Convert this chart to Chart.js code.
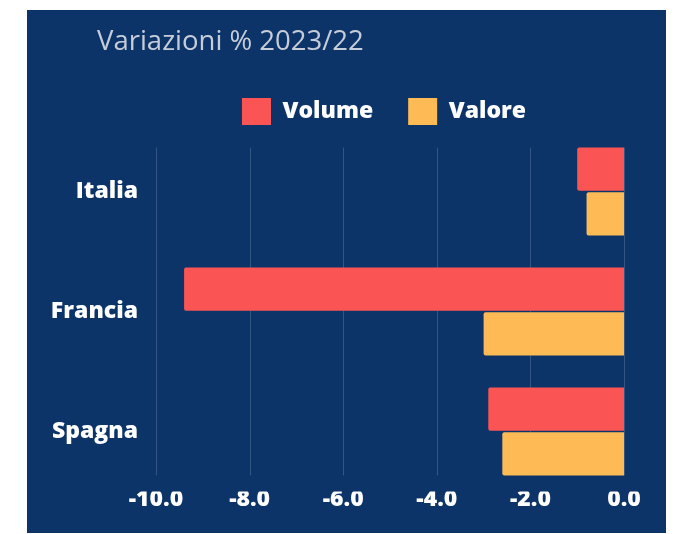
<!DOCTYPE html>
<html>
<head>
<meta charset="utf-8">
<script src="https://cdn.jsdelivr.net/npm/chart.js@4/dist/chart.umd.min.js"></script>
<style>
  html, body { margin: 0; padding: 0; background: #fff; }
  #pannello { position: absolute; left: 27px; top: 10px; width: 639px; height: 523px; background: #0c3469; }
</style>
</head>
<body>
<div id="pannello"><canvas id="grafico"></canvas></div>
<script>
const paesi = ['Italia', 'Francia', 'Spagna'];
const volume = [-1.0, -9.4, -2.9];
const valore = [-0.8, -3.0, -2.6];
const titolo = 'Variazioni % 2023/22';

const grigliaBarre = {
  id: 'grigliaBarre',
  // titolo e legenda spostati dove stanno nell'originale
  afterLayout(chart) {
    const t = chart.titleBlock;
    let d = 70 - t.left;
    t.left += d; t.right += d;
    const l = chart.legend;
    d = 215 - 35 - l.left;
    l.left += d; l.right += d;
  },
  // griglia verticale solo all'altezza delle barre
  beforeDatasetsDraw(chart) {
    const x = chart.scales.x;
    const primo = chart.getDatasetMeta(0).data[0];
    const ultimo = chart.getDatasetMeta(1).data[paesi.length - 1];
    const top = primo.y - primo.height / 2;
    const bottom = ultimo.y + ultimo.height / 2;
    const ctx = chart.ctx;
    ctx.save();
    ctx.strokeStyle = 'rgba(255,255,255,0.17)';
    ctx.lineWidth = 1;
    x.ticks.forEach(t => {
      const px = Math.round(x.getPixelForValue(t.value)) + 0.5;
      ctx.beginPath();
      ctx.moveTo(px, top);
      ctx.lineTo(px, bottom);
      ctx.stroke();
    });
    ctx.restore();
  }
};

const font = { family: 'Open Sans', size: 23, weight: '800' };

const ctx = document.getElementById('grafico').getContext('2d');
new Chart(ctx, {
  type: 'bar',
  data: {
    labels: paesi,
    datasets: [
      { label: 'Volume', data: volume, backgroundColor: '#fa5454' },
      { label: 'Valore', data: valore, backgroundColor: '#fdba55' }
    ]
  },
  options: {
    indexAxis: 'y',
    responsive: true,
    maintainAspectRatio: false,
    animation: false,
    categoryPercentage: 0.745,
    barPercentage: 0.965,
    borderRadius: 2,
    layout: { padding: { left: 23, right: 42, top: 0, bottom: 11.5 } },
    plugins: {
      title: {
        display: true,
        text: titolo,
        align: 'start',
        color: '#c6cdd9',
        font: { family: 'Open Sans', size: 27.5, weight: '400' },
        padding: { top: 15.5, bottom: 4.5 }
      },
      legend: {
        fullSize: false,
        align: 'start',
        maxHeight: 68.5,
        labels: {
          color: '#ffffff',
          boxWidth: 29,
          boxHeight: 27,
          padding: 35,
          font: font
        }
      },
      tooltip: { enabled: false }
    },
    scales: {
      x: {
        min: -10,
        max: 0,
        afterFit: s => { s.height = 30; },
        grid: { display: false },
        border: { display: false },
        ticks: {
          stepSize: 2,
          padding: -14,
          color: '#ffffff',
          font: font,
          callback: v => v.toFixed(1)
        }
      },
      y: {
        afterFit: s => { s.width = 106; },
        grid: { display: false },
        border: { display: false },
        ticks: {
          padding: 10,
          color: '#ffffff',
          font: font
        }
      }
    }
  },
  plugins: [grigliaBarre]
});
</script>
</body>
</html>
